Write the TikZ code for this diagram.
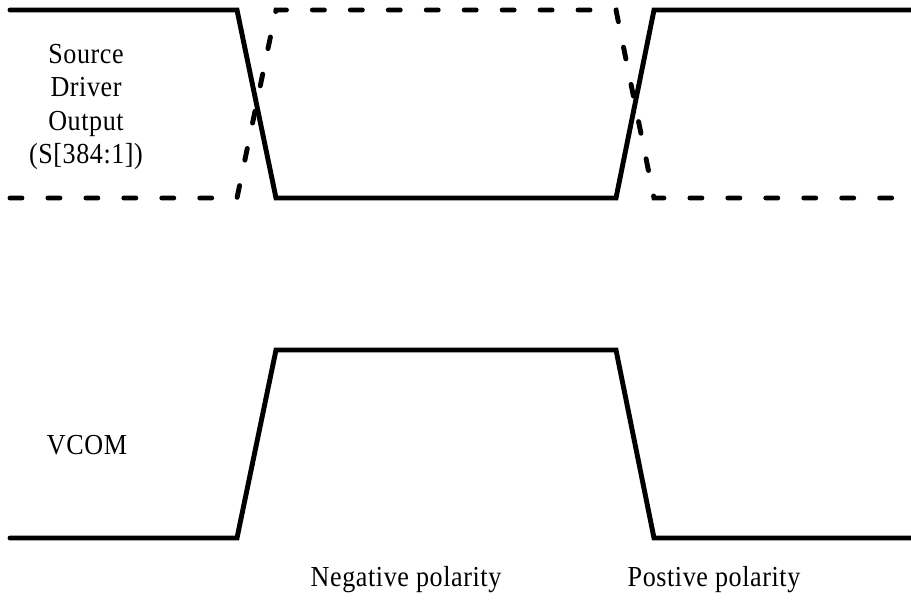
\documentclass[tikz,border=0pt]{standalone}
\usepackage{fontspec}
\setmainfont[LetterSpace=2, FakeStretch=0.9]{Liberation Serif}

\begin{document}
\begin{tikzpicture}[x=0.02cm, y=-0.02cm, line join=miter]
        \tikzset{
            wave/.style={line width=2.8pt, line cap=round},
            lbl/.style={font=\fontsize{16.5}{18.8}\selectfont, align=center}
        }
        \useasboundingbox (0,0) rectangle (911,615);
        % Source driver output (solid)
        \draw[wave] (10,10) -- (237,10) -- (276,198) -- (616,198) -- (654,10) -- (911,10);
        % Source driver output (dashed)
        \draw[wave, dash pattern=on 6.8pt off 14.8pt] (10,198) -- (237,198) -- (276,10) -- (616,10) -- (654,198) -- (911,198);
        % VCOM
        \draw[wave] (10,538) -- (237,538) -- (276,350) -- (616,350) -- (654,538) -- (911,538);
        % Labels
        \node[lbl] (src) at (86,107) {Source\\Driver\\Output\\(S[384:1])};
        \node[lbl] (vcom) at (87,445) {VCOM};
        \node[lbl] (neg) at (406,580) {Negative polarity};
        \node[lbl] (pos) at (714,580) {Postive polarity};
    \end{tikzpicture}
\end{document}
